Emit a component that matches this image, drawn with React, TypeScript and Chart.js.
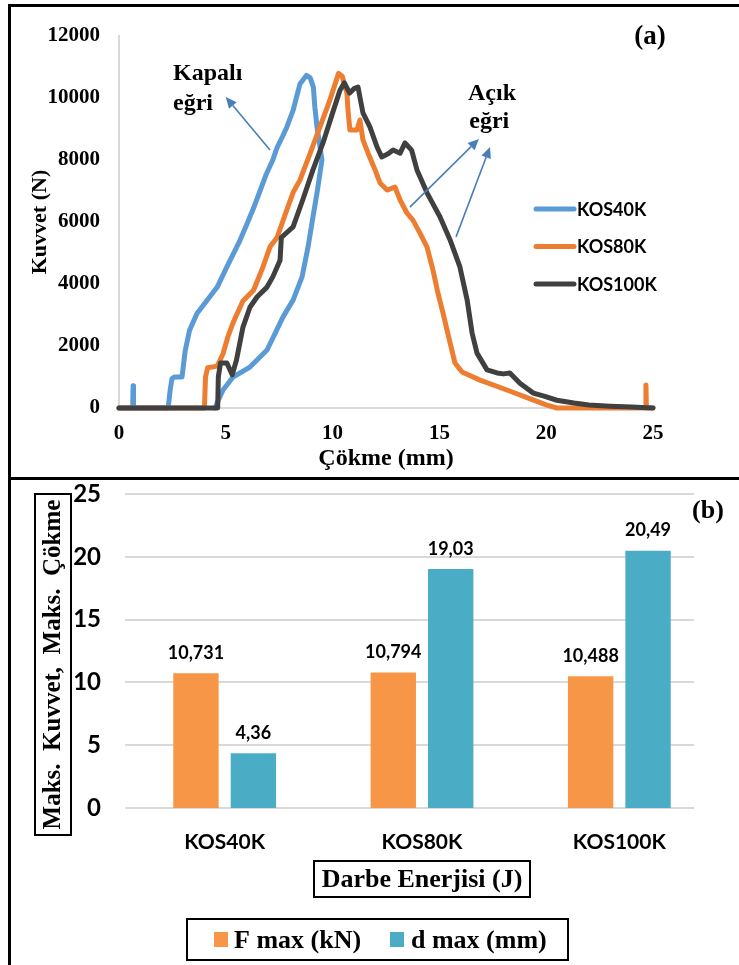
import React, { useEffect, useRef } from 'react';
import { Chart, registerables } from 'chart.js';

Chart.register(...registerables);

// ---------- Panel (a) data : Kuvvet (N) vs Çökme (mm) ----------
const SERIES_NAMES = ['KOS40K', 'KOS80K', 'KOS100K'];
const SERIES_COLORS = ['#5B9BD5', '#ED7D31', '#404040'];

const KOS40K_D = [0, 0.64, 0.66, 0.68, 2.3, 2.4, 2.48, 2.6, 2.95, 3.1, 3.3, 3.65, 4.1, 4.6, 5.05, 5.3, 5.66, 6.0, 6.3, 6.6, 6.9, 7.2, 7.4, 7.65, 7.85, 8.15, 8.47, 8.78, 8.95, 9.1, 9.17, 9.27, 9.41, 9.5, 9.41, 9.27, 9.08, 8.85, 8.57, 8.15, 7.68, 7.54, 6.93, 6.13, 5.34, 4.87, 4.59, 4.5];
const KOS40K_F = [0, 0, 720, 0, 0, 600, 950, 1000, 1000, 1850, 2500, 3050, 3450, 3900, 4550, 4900, 5400, 5950, 6450, 7000, 7550, 8000, 8400, 8750, 9050, 9600, 10450, 10731, 10650, 10350, 9700, 9060, 8420, 8000, 7580, 6940, 6160, 5190, 4230, 3480, 2940, 2740, 1870, 1320, 1000, 580, 160, 0];

const KOS80K_D = [0, 4.0, 4.05, 4.15, 4.6, 4.87, 5.1, 5.34, 5.8, 6.3, 6.74, 7.07, 7.4, 7.86, 8.15, 8.47, 8.94, 9.4, 9.88, 10.28, 10.45, 10.67, 10.72, 10.81, 11.14, 11.28, 11.42, 11.66, 11.99, 12.22, 12.55, 12.92, 13.16, 13.48, 13.76, 14.09, 14.42, 14.7, 14.93, 15.17, 15.5, 15.73, 16.06, 16.9, 18.16, 19.38, 20.0, 20.5, 24.65, 24.67, 24.69, 25.0];
const KOS80K_F = [0, 0, 1000, 1300, 1350, 1750, 2300, 2750, 3450, 3800, 4550, 5200, 5500, 6400, 6950, 7350, 8200, 9050, 9950, 10794, 10700, 10160, 9610, 8970, 8970, 9290, 8650, 8220, 7680, 7260, 7030, 7130, 6710, 6290, 6060, 5640, 5190, 4450, 3710, 3060, 2100, 1450, 1160, 900, 580, 260, 100, 0, 0, 740, 0, 0];

const KOS100K_D = [0, 4.62, 4.65, 4.75, 5.05, 5.3, 5.5, 5.8, 6.13, 6.46, 6.93, 7.2, 7.54, 7.6, 8.15, 8.6, 9.08, 9.55, 10.0, 10.35, 10.55, 10.8, 11.0, 11.19, 11.42, 11.75, 12.08, 12.3, 12.6, 12.83, 13.16, 13.39, 13.7, 13.95, 14.42, 15.03, 15.5, 15.96, 16.3, 16.53, 16.76, 17.23, 17.7, 18.0, 18.3, 18.77, 19.4, 19.9, 20.5, 21.3, 22.0, 23.0, 24.0, 25.0];
const KOS100K_F = [0, 0, 1000, 1450, 1450, 1070, 1550, 2600, 3250, 3580, 3900, 4230, 4770, 5500, 5840, 6710, 7680, 8550, 9520, 10260, 10488, 10160, 10300, 10350, 9520, 9060, 8420, 8100, 8200, 8320, 8220, 8550, 8320, 7680, 6940, 6160, 5420, 4550, 3480, 2420, 1770, 1230, 1130, 1100, 1130, 800, 480, 380, 250, 160, 100, 60, 30, 0];

const X_TICKS_A = [0, 5, 10, 15, 20, 25];
const Y_TICKS_A = [0, 2000, 4000, 6000, 8000, 10000, 12000];
const X_TITLE_A = 'Çökme (mm)';
const Y_TITLE_A = 'Kuvvet (N)';
const PANEL_A = '(a)';

// annotation texts and arrows (in data units)
const NOTES = [
  { text: 'Kapalı', d: 2.53, f: 10580 },
  { text: 'eğri', d: 2.53, f: 9610 },
  { text: 'Açık', d: 16.34, f: 9935 },
  { text: 'eğri', d: 16.4, f: 9030 },
];
const ARROWS = [
  { d0: 7.07, f0: 8320, d1: 5.0, f1: 10030 },
  { d0: 13.62, f0: 6480, d1: 16.85, f1: 8680 },
  { d0: 15.78, f0: 5520, d1: 17.37, f1: 8420 },
];

// ---------- Panel (b) data ----------
const CATEGORIES = ['KOS40K', 'KOS80K', 'KOS100K'];
const F_MAX = [10.731, 10.794, 10.488];
const D_MAX = [4.36, 19.03, 20.49];
const BAR_SERIES = ['F max (kN)', 'd max (mm)'];
const BAR_DECIMALS = [3, 2];
const BAR_COLORS = ['#F79646', '#4BACC6'];
const Y_TICKS_B = [0, 5, 10, 15, 20, 25];
const Y_TITLE_B = 'Maks.  Kuvvet,  Maks.  Çökme';
const X_TITLE_B = 'Darbe Enerjisi (J)';
const PANEL_B = '(b)';

const SERIF = '"Liberation Serif", "Times New Roman", serif';
const SANS = 'Lato, "Liberation Sans", sans-serif';

function toPoints(d: number[], f: number[]) {
  return d.map((v, i) => ({ x: v, y: f[i] }));
}

function drawArrow(ctx: CanvasRenderingContext2D, x0: number, y0: number, x1: number, y1: number) {
  const ang = Math.atan2(y1 - y0, x1 - x0);
  const len = 11;
  const hw = 5;
  const bx = x1 - Math.cos(ang) * len;
  const by = y1 - Math.sin(ang) * len;
  ctx.strokeStyle = '#4A7EBB';
  ctx.fillStyle = '#4A7EBB';
  ctx.lineWidth = 1.6;
  ctx.beginPath();
  ctx.moveTo(x0, y0);
  ctx.lineTo(bx, by);
  ctx.stroke();
  ctx.beginPath();
  ctx.moveTo(x1, y1);
  ctx.lineTo(bx + Math.sin(ang) * hw, by - Math.cos(ang) * hw);
  ctx.lineTo(bx - Math.sin(ang) * hw, by + Math.cos(ang) * hw);
  ctx.closePath();
  ctx.fill();
}

const panelAPlugin = {
  id: 'panelA',
  afterDraw(chart: any) {
    const { ctx, scales } = chart;
    const xs = scales.x;
    const ys = scales.y;
    ctx.save();
    // annotations
    ctx.fillStyle = '#000';
    ctx.font = `bold 24px ${SERIF}`;
    ctx.textAlign = 'left';
    ctx.textBaseline = 'alphabetic';
    NOTES.forEach((n) => ctx.fillText(n.text, xs.getPixelForValue(n.d), ys.getPixelForValue(n.f)));
    ARROWS.forEach((a) =>
      drawArrow(ctx, xs.getPixelForValue(a.d0), ys.getPixelForValue(a.f0), xs.getPixelForValue(a.d1), ys.getPixelForValue(a.f1))
    );
    // legend
    const lx = 536;
    const ly = 209;
    const gap = 37.5;
    chart.data.datasets.forEach((ds: any, i: number) => {
      const yy = ly + i * gap;
      ctx.strokeStyle = ds.borderColor;
      ctx.lineWidth = 5;
      ctx.lineCap = 'round';
      ctx.beginPath();
      ctx.moveTo(lx, yy);
      ctx.lineTo(lx + 38, yy);
      ctx.stroke();
      ctx.fillStyle = '#000';
      ctx.font = `bold 18px ${SANS}`;
      ctx.textBaseline = 'middle';
      ctx.textAlign = 'left';
      ctx.fillText(ds.label, lx + 41, yy + 1);
    });
    // panel letter
    ctx.font = `bold 27px ${SERIF}`;
    ctx.textAlign = 'center';
    ctx.textBaseline = 'middle';
    ctx.fillStyle = '#000';
    ctx.fillText(PANEL_A, 650, 37);
    ctx.restore();
  },
};

const panelBPlugin = {
  id: 'panelB',
  beforeDatasetsDraw(chart: any) {
    const { ctx, chartArea, scales } = chart;
    const ys = scales.y;
    ctx.save();
    ctx.strokeStyle = '#d9d9d9';
    ctx.lineWidth = 2;
    ys.ticks.forEach((t: any) => {
      const py = Math.round(ys.getPixelForValue(t.value));
      ctx.beginPath();
      ctx.moveTo(chartArea.left - 1, py);
      ctx.lineTo(chartArea.right - 24, py);
      ctx.stroke();
    });
    ctx.restore();
  },
  afterDatasetsDraw(chart: any) {
    const { ctx } = chart;
    ctx.save();
    ctx.fillStyle = '#000';
    ctx.font = `bold 18px ${SANS}`;
    ctx.textAlign = 'center';
    ctx.textBaseline = 'middle';
    chart.data.datasets.forEach((ds: any, di: number) => {
      const meta = chart.getDatasetMeta(di);
      meta.data.forEach((el: any, i: number) => {
        const txt = Number(ds.data[i]).toFixed(BAR_DECIMALS[di]).replace('.', ',');
        ctx.fillText(txt, el.x, el.y - 20);
      });
    });
    ctx.restore();
  },
  afterDraw(chart: any) {
    const { ctx } = chart;
    ctx.save();
    ctx.strokeStyle = '#000';
    ctx.lineWidth = 2;
    ctx.fillStyle = '#000';
    // y title box
    ctx.strokeRect(35, 14, 36, 341);
    ctx.save();
    ctx.translate(54, 184.5);
    ctx.rotate(-Math.PI / 2);
    ctx.font = `bold 25px ${SERIF}`;
    ctx.textAlign = 'center';
    ctx.textBaseline = 'middle';
    ctx.fillText(Y_TITLE_B, 0, 0);
    ctx.restore();
    // x title box
    ctx.strokeRect(314, 381, 216, 36);
    ctx.font = `bold 26px ${SERIF}`;
    ctx.textAlign = 'center';
    ctx.textBaseline = 'middle';
    ctx.fillText(X_TITLE_B, 422, 400);
    // legend box
    ctx.strokeRect(187, 439, 381, 41);
    const items = [
      { sx: 214, tx: 234 },
      { sx: 390, tx: 411 },
    ];
    chart.data.datasets.forEach((ds: any, i: number) => {
      ctx.fillStyle = ds.backgroundColor;
      ctx.fillRect(items[i].sx, 452, 14, 15);
      ctx.fillStyle = '#000';
      ctx.font = `bold 26px ${SERIF}`;
      ctx.textAlign = 'left';
      ctx.textBaseline = 'middle';
      ctx.fillText(ds.label, items[i].tx, 461);
    });
    // panel letter
    ctx.font = `bold 26px ${SERIF}`;
    ctx.textAlign = 'center';
    ctx.textBaseline = 'middle';
    ctx.fillText(PANEL_B, 708, 31);
    ctx.restore();
  },
};

export default function App() {
  const refA = useRef<HTMLCanvasElement>(null);
  const refB = useRef<HTMLCanvasElement>(null);

  useEffect(() => {
    const tickFontA = { family: SERIF, size: 21, weight: 'bold' as const };
    const seriesD = [KOS40K_D, KOS80K_D, KOS100K_D];
    const seriesF = [KOS40K_F, KOS80K_F, KOS100K_F];
    const chartA = new Chart(refA.current as HTMLCanvasElement, {
      type: 'scatter',
      data: {
        datasets: SERIES_NAMES.map((name, i) => ({
          label: name,
          data: toPoints(seriesD[i], seriesF[i]),
          showLine: true,
          borderColor: SERIES_COLORS[i],
          backgroundColor: SERIES_COLORS[i],
          borderWidth: 5,
          pointRadius: 0,
          tension: 0,
          borderJoinStyle: 'round',
          borderCapStyle: 'round',
          clip: false,
          order: 2 - i,
        })),
      },
      options: {
        responsive: false,
        animation: false,
        devicePixelRatio: 1,
        layout: { padding: { left: 0, top: 36, right: 86, bottom: 0 } },
        plugins: { legend: { display: false }, tooltip: { enabled: false } },
        scales: {
          x: {
            type: 'linear',
            min: X_TICKS_A[0],
            max: X_TICKS_A[X_TICKS_A.length - 1],
            afterBuildTicks: (s: any) => {
              s.ticks = X_TICKS_A.map((v) => ({ value: v }));
            },
            ticks: { font: tickFontA, color: '#000', padding: 13, maxRotation: 0, callback: (v: any) => String(v) },
            grid: { display: false, drawTicks: false },
            border: { display: true, color: '#d9d9d9', width: 2 },
            title: {
              display: true,
              text: X_TITLE_A,
              color: '#000',
              font: { family: SERIF, size: 24, weight: 'bold' },
              padding: { top: 0, bottom: 7 },
            },
            afterFit: (s: any) => {
              s.height = 72;
              s.paddingLeft = 0;
              s.paddingRight = 0;
            },
          },
          y: {
            type: 'linear',
            min: Y_TICKS_A[0],
            max: Y_TICKS_A[Y_TICKS_A.length - 1],
            afterBuildTicks: (s: any) => {
              s.ticks = Y_TICKS_A.map((v) => ({ value: v }));
            },
            ticks: { font: tickFontA, color: '#000', padding: 19, callback: (v: any) => String(v) },
            grid: { display: false, drawTicks: false },
            border: { display: true, color: '#d9d9d9', width: 2 },
            title: {
              display: true,
              text: Y_TITLE_A,
              color: '#000',
              font: { family: SERIF, size: 22, weight: 'bold' },
              padding: { top: 27, bottom: 0 },
            },
            afterFit: (s: any) => {
              s.width = 119;
              s.paddingTop = 0;
              s.paddingBottom = 0;
            },
          },
        },
      } as any,
      plugins: [panelAPlugin],
    });

    const chartB = new Chart(refB.current as HTMLCanvasElement, {
      type: 'bar',
      data: {
        labels: CATEGORIES,
        datasets: [
          { label: BAR_SERIES[0], data: F_MAX, backgroundColor: BAR_COLORS[0], categoryPercentage: 0.582, barPercentage: 0.79 },
          { label: BAR_SERIES[1], data: D_MAX, backgroundColor: BAR_COLORS[1], categoryPercentage: 0.582, barPercentage: 0.79 },
        ],
      },
      options: {
        responsive: false,
        animation: false,
        devicePixelRatio: 1,
        layout: { padding: { left: 0, top: 14, right: 21, bottom: 0 } },
        plugins: { legend: { display: false }, tooltip: { enabled: false } },
        scales: {
          x: {
            ticks: { font: { family: SANS, size: 21, weight: 'bold' }, color: '#000', padding: 22, maxRotation: 0 },
            grid: { display: false, drawTicks: false },
            border: { display: false },
            afterFit: (s: any) => {
              s.height = 157;
              s.paddingLeft = 0;
              s.paddingRight = 0;
            },
          },
          y: {
            min: Y_TICKS_B[0],
            max: Y_TICKS_B[Y_TICKS_B.length - 1],
            afterBuildTicks: (s: any) => {
              s.ticks = Y_TICKS_B.map((v) => ({ value: v }));
            },
            ticks: { font: { family: SANS, size: 24, weight: 'bold' }, color: '#000', padding: 25, callback: (v: any) => String(v) },
            grid: { display: false, drawTicks: false },
            border: { display: false },
            afterFit: (s: any) => {
              s.width = 126;
              s.paddingTop = 0;
              s.paddingBottom = 0;
            },
          },
        },
      } as any,
      plugins: [panelBPlugin],
    });

    return () => {
      chartA.destroy();
      chartB.destroy();
    };
  }, []);

  return (
    <div style={{ position: 'absolute', left: 0, top: 0, width: 739, height: 965, background: '#fff', overflow: 'hidden' }}>
      <canvas ref={refA} width={739} height={480} style={{ position: 'absolute', left: 0, top: 0, display: 'block' }} />
      <canvas ref={refB} width={739} height={485} style={{ position: 'absolute', left: 0, top: 480, display: 'block' }} />
      <div style={{ position: 'absolute', left: 8, top: 4, width: 731, height: 3, background: '#000' }} />
      <div style={{ position: 'absolute', left: 8, top: 4, width: 3, height: 961, background: '#000' }} />
      <div style={{ position: 'absolute', left: 8, top: 477, width: 731, height: 3, background: '#000' }} />
    </div>
  );
}
